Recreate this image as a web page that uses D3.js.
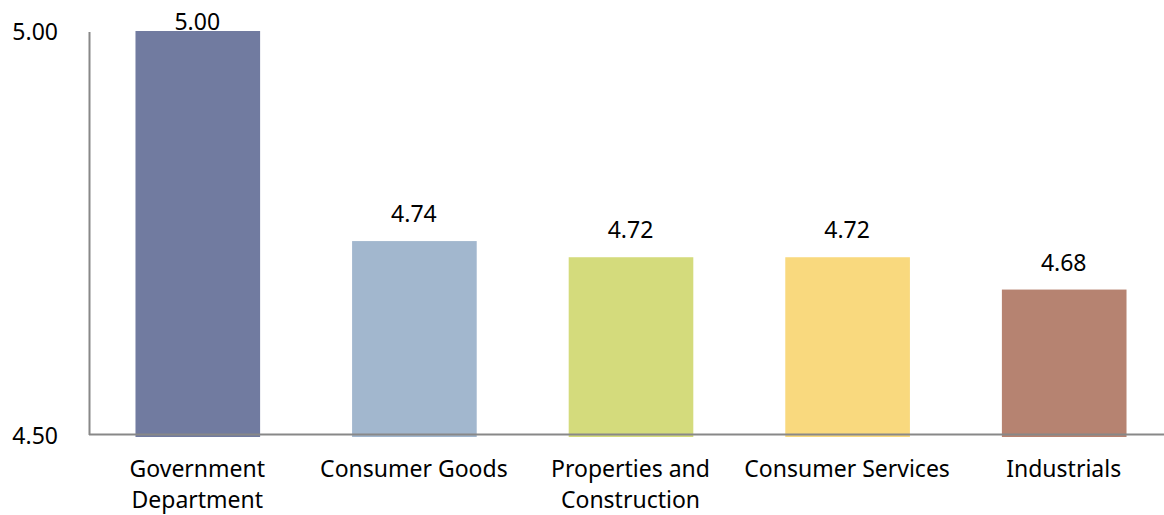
<!DOCTYPE html>
<html><head><meta charset="utf-8">
<script src="https://cdn.jsdelivr.net/npm/d3@7/dist/d3.min.js"></script>
<style>body{margin:0;background:#fff;}svg{display:block;font-family:"Noto Sans",sans-serif;}</style>
</head><body>
<svg id="c" width="1164" height="515"></svg>
<script>
const categories = [["Government","Department"],["Consumer Goods"],["Properties and","Construction"],["Consumer Services"],["Industrials"]];
const values = [5.00, 4.74, 4.72, 4.72, 4.68];
const colors = ["#717BA0","#A2B7CE","#D4DB7C","#F9D97E","#B68371"];
const tickValues = [4.5, 5.0];

const svg = d3.select("#c");
const x = d3.scaleBand().domain(d3.range(values.length)).range([89, 1172]).paddingInner(0.42).paddingOuter(0.21);
const y = d3.scaleLinear().domain([4.5, 5.0]).range([435, 31]);

svg.selectAll("rect.bar").data(values).join("rect")
  .attr("x",(d,i)=>x(i)+1).attr("width",x.bandwidth()-1)
  .attr("y",d=>y(d)).attr("height",d=>y(4.5)+2-y(d))
  .attr("fill",(d,i)=>colors[i]);

svg.append("line").attr("x1",89.5).attr("x2",89.5).attr("y1",32).attr("y2",435).attr("stroke","#888").attr("stroke-width",2);
svg.append("line").attr("x1",89).attr("x2",1164).attr("y1",434.5).attr("y2",434.5).attr("stroke","#888").attr("stroke-width",2);

svg.selectAll("text.tick").data(tickValues).join("text")
  .attr("x",58).attr("y",d=>y(d)+9).attr("text-anchor","end")
  .attr("font-size",23).attr("fill","#000").text(d=>d.toFixed(2));

svg.selectAll("text.val").data(values).join("text")
  .attr("x",(d,i)=>x(i)+x.bandwidth()/2)
  .attr("y",d=>Math.max(y(d)-19, 30))
  .attr("text-anchor","middle").attr("font-size",23).attr("fill","#000")
  .text(d=>d.toFixed(2));

const lab = svg.selectAll("text.cat").data(categories).join("text")
  .attr("text-anchor","middle").attr("font-size",23).attr("fill","#000");
lab.each(function(lines,i){
  const t=d3.select(this);
  lines.forEach((l,j)=>t.append("tspan").attr("x",x(i)+x.bandwidth()/2).attr("y",477+j*31).text(l));
});
</script>
</body></html>
